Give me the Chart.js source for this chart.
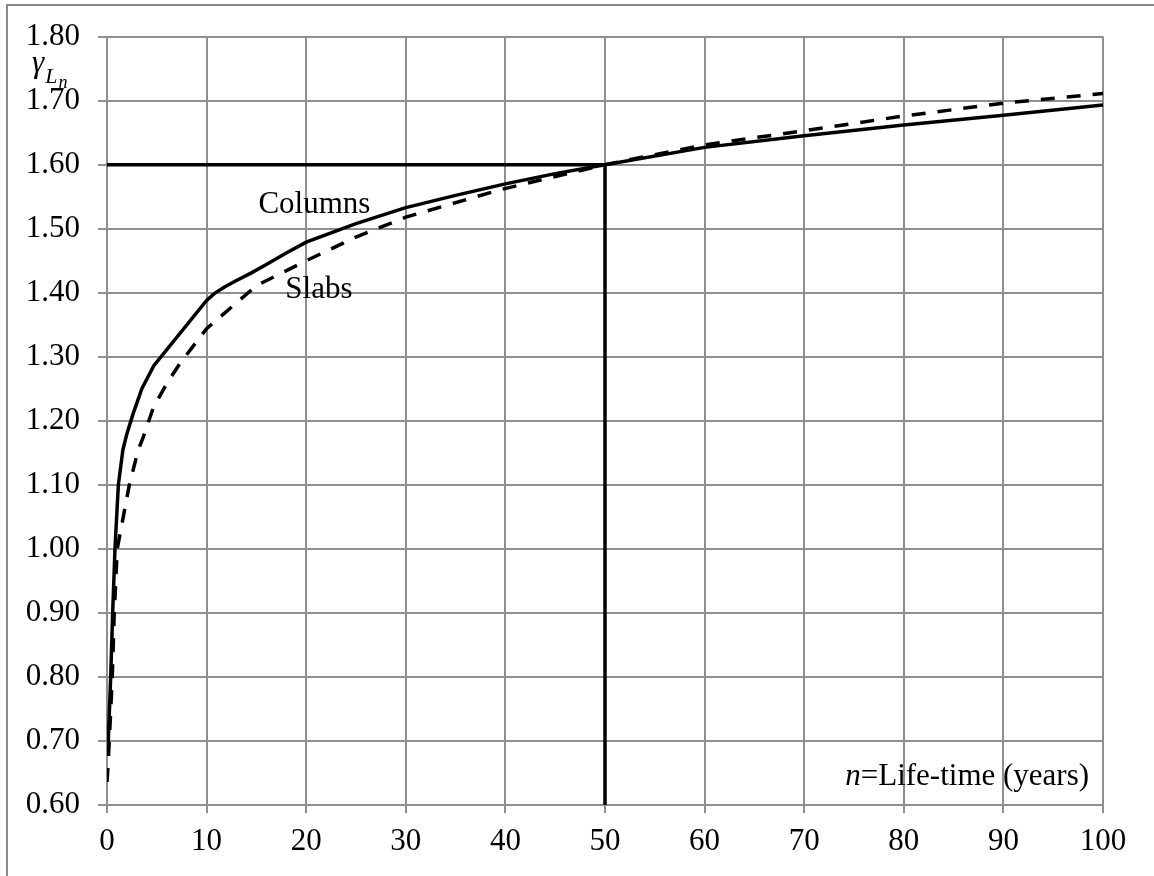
<!DOCTYPE html>
<html>
<head>
<meta charset="utf-8">
<script src="https://cdn.jsdelivr.net/npm/chart.js@4"></script>
<style>
  body { margin: 0; background: #fff; }
  #wrap { width: 1154px; height: 876px; }
</style>
</head>
<body>
<div id="wrap"><canvas id="chart1" width="1154" height="876"></canvas></div>
<script>
// life-time n (years) and the load factor gamma_Ln for each member type
const columnsN     = [0.05, 0.13, 0.37, 0.57, 0.80, 1.14, 1.6, 2.0, 2.6, 3.5, 4.7, 10.0, 10.8, 11.8, 13.0, 14.5, 16.0, 18.0, 20.0, 25.0, 30.0, 35.0, 40.0, 45.0, 50.0, 60.0, 70.0, 80.0, 90.0, 100.0];
const columnsGamma = [0.68, 0.70, 0.80, 0.90, 1.00, 1.10, 1.155, 1.18, 1.21, 1.25, 1.286, 1.388, 1.399, 1.409, 1.419, 1.431, 1.444, 1.462, 1.479, 1.508, 1.533, 1.552, 1.570, 1.586, 1.600, 1.627, 1.645, 1.662, 1.677, 1.693];

const slabsN     = [0.0, 0.1, 0.23, 0.53, 0.73, 1.03, 2.24, 3.15, 3.65, 4.66, 6.0, 7.3, 10.0, 15.0, 20.0, 25.0, 30.0, 39.5, 50.0, 60.0, 70.0, 80.0, 90.0, 100.0];
const slabsGamma = [0.636, 0.66, 0.70, 0.80, 0.90, 1.00, 1.10, 1.155, 1.175, 1.221, 1.258, 1.289, 1.344, 1.411, 1.450, 1.487, 1.518, 1.561, 1.600, 1.631, 1.653, 1.676, 1.696, 1.711];

// reference life-time and level
const designLife = 50;
const refGamma = 1.60;

const yMin = 0.60, yMax = 1.80;

const toPoints = (xs, ys) => xs.map((x, i) => ({ x: x, y: ys[i] }));

const serif = "'Liberation Serif', 'Times New Roman', serif";
const gridGray = '#8f8f8f';

// chart frame (left and top edges) and the free text labels
const annotations = {
  id: 'annotations',
  beforeDraw(chart) {
    const ctx = chart.ctx;
    ctx.save();
    ctx.fillStyle = '#fff';
    ctx.fillRect(0, 0, chart.width, chart.height);
    ctx.strokeStyle = '#8a8a8a';
    ctx.lineWidth = 2;
    ctx.beginPath();
    ctx.moveTo(7, chart.height);
    ctx.lineTo(7, 5);
    ctx.lineTo(chart.width, 5);
    ctx.stroke();
    ctx.restore();
  },
  afterDatasetsDraw(chart) {
    const ctx = chart.ctx;
    const xs = chart.scales.x, ys = chart.scales.y;
    ctx.save();
    ctx.fillStyle = '#000';
    ctx.textBaseline = 'alphabetic';
    ctx.textAlign = 'left';
    ctx.font = '31px ' + serif;
    ctx.fillText('Columns', xs.getPixelForValue(15.2), ys.getPixelForValue(1.525));
    ctx.fillText('Slabs', xs.getPixelForValue(17.9), ys.getPixelForValue(1.391));

    // n=Life-time (years), right aligned inside the plot
    const rest = '=Life-time (years)';
    const right = xs.getPixelForValue(98.6);
    const base = ys.getPixelForValue(0.631);
    ctx.font = '31px ' + serif;
    const wRest = ctx.measureText(rest).width;
    ctx.font = 'italic 31px ' + serif;
    const wN = ctx.measureText('n').width;
    ctx.fillText('n', right - wRest - wN, base);
    ctx.font = '31px ' + serif;
    ctx.fillText(rest, right - wRest, base);

    // axis symbol gamma_Ln
    const left = chart.chartArea.left;
    ctx.font = 'italic 31px ' + serif;
    ctx.fillText('\u03B3', left - 75, 72);
    const wG = ctx.measureText('\u03B3').width;
    ctx.font = 'italic 22px ' + serif;
    ctx.fillText('L', left - 75 + wG + 1, 83);
    const wL = ctx.measureText('L').width;
    ctx.font = 'italic 18px ' + serif;
    ctx.fillText('n', left - 75 + wG + wL + 2, 88);
    ctx.restore();
  }
};

let plot = () => {
  const ctx = document.getElementById('chart1');
  const dataset = {
    datasets: [
      {
        label: 'Columns',
        data: toPoints(columnsN, columnsGamma),
        borderColor: '#000',
        borderWidth: 3.5,
        pointRadius: 0,
        tension: 0,
      },
      {
        label: 'Slabs',
        data: toPoints(slabsN, slabsGamma),
        borderColor: '#000',
        borderWidth: 3.5,
        borderDash: [14, 12],
        pointRadius: 0,
        tension: 0,
      },
      {
        label: 'level',
        data: [{ x: 0, y: refGamma }, { x: designLife, y: refGamma }],
        borderColor: '#000',
        borderWidth: 3.5,
        pointRadius: 0,
      },
      {
        label: 'life',
        data: [{ x: designLife, y: yMin }, { x: designLife, y: refGamma }],
        borderColor: '#000',
        borderWidth: 3.5,
        pointRadius: 0,
      },
    ],
  };
  const config = {
    type: 'line',
    data: dataset,
    options: {
      responsive: false,
      animation: false,
      layout: { padding: { top: 36, right: 51, left: 0, bottom: 0 } },
      plugins: { legend: { display: false }, tooltip: { enabled: false } },
      scales: {
        x: {
          type: 'linear',
          min: 0,
          max: 100,
          afterFit: (s) => { s.height = 71; },
          ticks: { stepSize: 10, color: '#000', padding: 10, maxRotation: 0, font: { family: serif, size: 31 } },
          grid: { color: gridGray, lineWidth: 2, tickLength: 8 },
          border: { color: gridGray, width: 2 },
        },
        y: {
          min: yMin,
          max: yMax,
          afterFit: (s) => { s.width = 107; },
          ticks: {
            stepSize: 0.1,
            color: '#000',
            padding: 18,
            font: { family: serif, size: 31 },
            callback: (v) => v.toFixed(2),
          },
          grid: { color: gridGray, lineWidth: 2, tickLength: 9 },
          border: { color: gridGray, width: 2 },
        },
      },
    },
    plugins: [annotations],
  };
  const chart = new Chart(ctx, config);
};

plot();
</script>
</body>
</html>
